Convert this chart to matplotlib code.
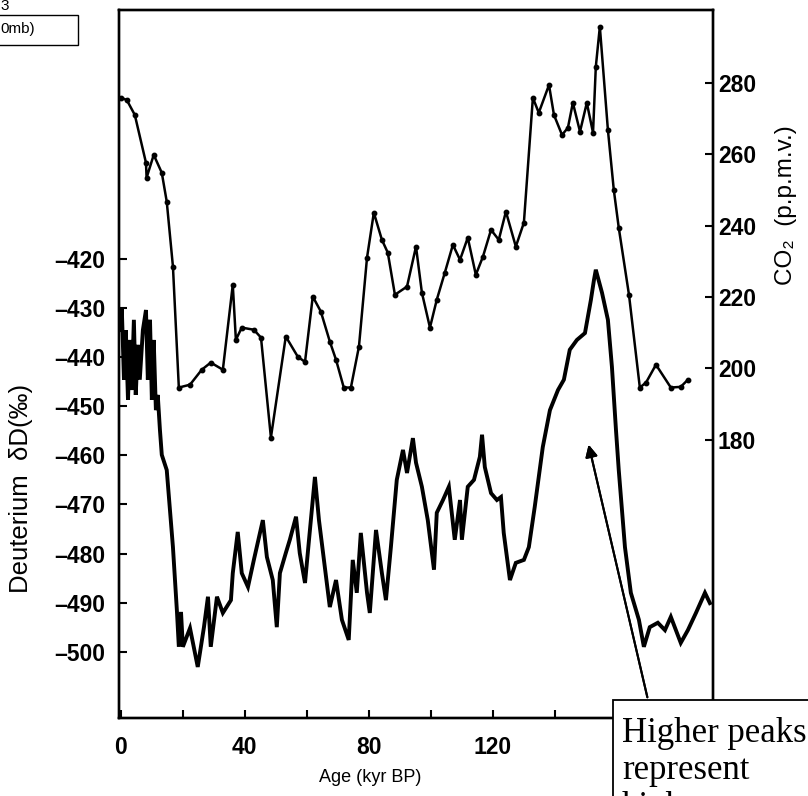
import matplotlib
matplotlib.use('Agg')
import matplotlib.pyplot as plt
from matplotlib.patches import Rectangle

# CO2 record (age in kyr BP, ppmv)
co2_age = [0, 1.9, 4.5, 8.1, 8.3, 10.6, 13.2, 14.8, 16.8, 18.7, 22.3, 26.1, 29.0, 32.9,
           36.1, 37.1, 39.0, 42.9, 45.2, 48.4, 53.2, 57.1, 59.4, 61.9, 64.5, 67.4, 69.4,
           71.9, 74.2, 76.8, 79.4, 81.6, 84.2, 86.1, 88.4, 92.3, 95.2, 97.1, 99.7, 101.9,
           104.5, 107.1, 109.4, 111.9, 114.5, 116.8, 119.4, 121.9, 124.2, 127.4, 130.0,
           132.9, 134.8, 138.1, 139.7, 142.3, 144.2, 145.8, 148.1, 150.3, 152.3, 153.2,
           154.5, 157.1, 159.0, 160.6, 163.9, 167.4, 169.4, 172.6, 177.4, 180.6, 182.9]
co2_ppmv = [275.8, 275.2, 271.0, 257.6, 253.4, 259.8, 254.8, 246.7, 228.5, 194.6, 195.4,
            199.6, 201.6, 199.6, 223.4, 208.0, 211.4, 210.8, 208.6, 180.6, 208.9, 203.2,
            201.8, 220.1, 215.9, 207.5, 202.4, 194.6, 194.6, 206.1, 231.0, 243.6, 236.0,
            232.4, 220.6, 222.9, 234.1, 221.2, 211.4, 219.2, 226.8, 234.6, 230.4, 236.6,
            226.2, 231.3, 238.8, 236.0, 243.9, 234.1, 240.8, 275.8, 271.6, 279.4, 271.0,
            265.4, 267.4, 274.4, 266.3, 274.4, 266.0, 284.5, 295.7, 266.8, 250.0, 239.4,
            220.6, 194.6, 196.0, 201.0, 194.6, 194.8, 196.8]

# Deuterium record (age in kyr BP, per mil)
dd_age = [0, 0.3, 1.0, 1.6, 2.3, 2.9, 3.5, 4.2, 4.8, 5.5, 6.1, 7.1, 8.1, 8.7, 9.4, 10.0,
          10.6, 11.3, 11.9, 12.6, 13.2, 14.8, 16.8, 18.1, 18.7, 19.4, 20.0, 22.3, 24.8,
          26.8, 28.1, 29.0, 31.0, 32.9, 35.5, 36.1, 37.7, 39.0, 41.0, 42.9, 45.8, 47.1,
          49.0, 50.3, 51.3, 53.2, 54.5, 56.5, 57.7, 59.4, 60.6, 62.6, 63.9, 65.5, 67.4,
          69.4, 71.3, 73.5, 74.8, 76.1, 77.4, 79.4, 80.3, 82.3, 84.2, 85.5, 87.1, 89.0,
          91.0, 92.3, 94.2, 95.2, 97.1, 99.0, 101.0, 101.9, 103.9, 105.8, 107.7, 109.4,
          110.0, 111.9, 113.9, 115.8, 116.5, 117.4, 119.4, 121.3, 122.6, 123.5, 125.5,
          127.4, 130.0, 131.6, 133.5, 136.1, 138.4, 141.0, 142.9, 144.8, 147.1, 149.7,
          151.6, 152.6, 153.2, 155.2, 157.1, 158.4, 159.7, 160.6, 162.6, 164.5, 167.1,
          168.7, 170.6, 173.2, 175.5, 177.4, 180.6, 182.9, 185.5, 188.4, 190.0]
dd_permil = [-434.5, -430.0, -444.6, -434.5, -448.7, -436.5, -446.7, -432.4, -447.7,
             -437.5, -444.6, -434.5, -430.4, -444.6, -432.4, -448.7, -436.5, -450.8,
             -447.7, -454.8, -459.9, -463.0, -478.7, -491.9, -499.0, -491.9, -499.0,
             -495.2, -503.1, -495.0, -488.8, -499.0, -488.8, -492.1, -489.5, -484.0,
             -475.6, -484.0, -486.8, -481.3, -473.2, -480.7, -485.4, -495.0, -484.0,
             -479.9, -477.2, -472.5, -479.9, -486.0, -477.8, -464.4, -473.2, -481.3,
             -490.9, -485.4, -493.5, -497.6, -481.3, -488.0, -475.8, -488.0, -492.1,
             -475.2, -484.0, -489.5, -478.7, -465.0, -458.9, -463.6, -456.5, -461.5,
             -466.4, -473.2, -483.3, -471.7, -469.1, -466.4, -477.2, -469.1, -477.2,
             -466.4, -465.0, -460.3, -455.8, -462.4, -467.7, -469.1, -468.5, -475.8,
             -485.4, -481.9, -481.3, -478.7, -470.5, -458.3, -450.8, -446.7, -444.6,
             -438.5, -436.5, -435.1, -428.4, -424.3, -422.2, -426.9, -432.4, -442.0,
             -454.8, -463.0, -478.7, -488.0, -493.5, -499.0, -495.0, -494.1, -495.6,
             -492.9, -498.2, -495.6, -492.1, -488.0, -490.1]

age_ticks = [0, 20, 40, 60, 80, 100, 120, 140, 160]
age_labels = ['0', '', '40', '', '80', '', '120', '', '']
dd_ticks = [-420, -430, -440, -450, -460, -470, -480, -490, -500]
co2_ticks = [180, 200, 220, 240, 260, 280]

W, H = 808, 796
fig = plt.figure(figsize=(W / 100, H / 100), dpi=100)
ax = fig.add_axes([119 / W, 1 - 718 / H, (713 - 119) / W, (718 - 10) / H])
ax2 = ax.twinx()

ax.plot(dd_age, dd_permil, color='black', lw=2.8, solid_joinstyle='miter')
ax2.plot(co2_age, co2_ppmv, color='black', lw=1.8, marker='o', ms=3.2)

ax.set_xlim(-0.6, 191)
ax.set_ylim(-513.5, -369.3)
ax2.set_ylim(102, 300.4)

tick_font = dict(family='Liberation Sans', weight='bold', size=16.5)
ax.set_xticks(age_ticks)
ax.set_xticklabels(age_labels, fontdict=tick_font)
ax.set_yticks(dd_ticks)
ax.set_yticklabels(['\u2013' + str(-t) for t in dd_ticks], fontdict=tick_font)
ax2.set_yticks(co2_ticks)
ax2.set_yticklabels([str(t) for t in co2_ticks], fontdict=tick_font)

ax.tick_params(axis='x', direction='in', length=6, width=1.5, pad=13)
ax.tick_params(axis='y', direction='in', length=6, width=1.5, pad=10)
ax2.tick_params(axis='y', direction='in', length=6, width=1.5, pad=3.5)
for a in (ax, ax2):
    for s in a.spines.values():
        s.set_linewidth(1.7)

fig.text(21 / W, 1 - 488 / H, 'Deuterium  δD(‰)', rotation=90, ha='center', va='center',
         family='Liberation Sans', size=18.5)
fig.text(370 / W, 1 - 778 / H, 'Age (kyr BP)', ha='center', va='center',
         family='Liberation Sans', size=13)
fig.text(786 / W, 1 - 205 / H, 'CO₂  (p.p.m.v.)', rotation=90, ha='center', va='center',
         family=['Liberation Sans', 'DejaVu Sans'], size=17.5)

# annotation arrow and text box
fig.add_artist(plt.annotate('', xy=(588, H - 442), xycoords='figure pixels',
                            xytext=(648, H - 700), textcoords='figure pixels',
                            arrowprops=dict(arrowstyle='-|>', color='black', lw=1.5,
                                            mutation_scale=18)))
fig.add_artist(Rectangle((613 / W, -0.05), 0.4, (H - 700) / H + 0.05,
                         transform=fig.transFigure, facecolor='white',
                         edgecolor='black', lw=1.3, zorder=5))
fig.text(622 / W, 1 - 717 / H, 'Higher peaks\nrepresent\nhigher', ha='left', va='top',
         family='Liberation Serif', size=25, linespacing=1.15, zorder=6)

# fragment of another legend in the top-left corner
fig.add_artist(Rectangle((-0.05, 1 - 45 / H), 0.05 + 78 / W, 30 / H,
                         transform=fig.transFigure, facecolor='white',
                         edgecolor='black', lw=1.0, zorder=5))
fig.text(0, 1 - 29 / H, '0mb)', ha='left', va='center', family='Liberation Sans',
         size=11, zorder=6)
fig.text(0, 1 - 6 / H, '3', ha='left', va='center', family='Liberation Sans',
         size=11, zorder=6)

fig.savefig('out.png', dpi=100)
